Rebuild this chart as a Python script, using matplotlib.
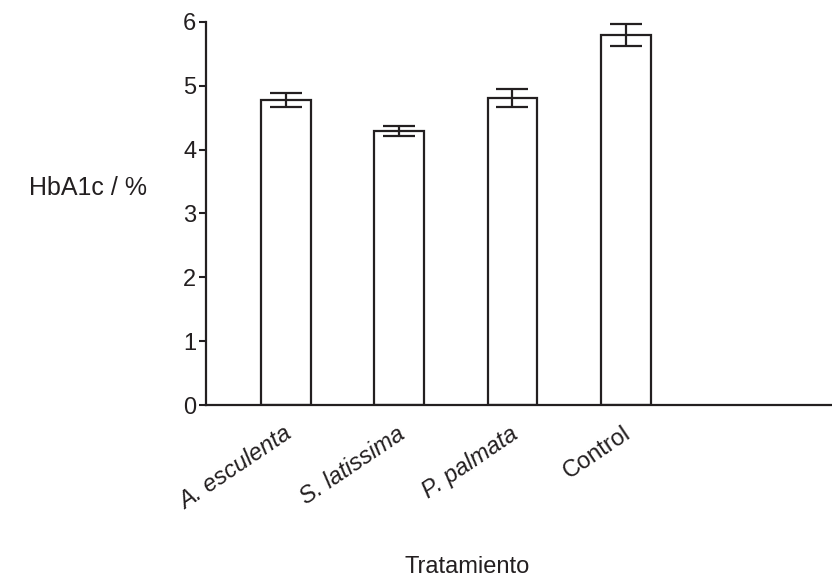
import numpy as np
import matplotlib.pyplot as plt
import matplotlib.transforms as mtransforms

plt.rcParams['font.family'] = ['Liberation Sans', 'DejaVu Sans']

treatments = ['A. esculenta', 'S. latissima', 'P. palmata', 'Control']
italic = [True, True, True, False]
hba1c = [4.78, 4.29, 4.81, 5.80]
err = [0.11, 0.08, 0.14, 0.17]

ink = '#231f20'

fig = plt.figure(figsize=(8.32, 5.81), dpi=100)
ax = fig.add_axes([0.2476, 0.3029, 0.7524, 0.6593])

x = np.arange(len(treatments))
ax.bar(x, hba1c, width=0.44, color='white', edgecolor=ink, linewidth=1.6, zorder=2)
ax.errorbar(x, hba1c, yerr=err, fmt='none', ecolor=ink, elinewidth=1.6,
            capsize=11.5, capthick=1.6, zorder=3)

ax.set_xlim(-0.708, 4.823)
ax.set_ylim(0, 6)
ax.set_yticks(range(7))
ax.tick_params(axis='y', labelsize=17, length=5, width=1.5, color=ink, labelcolor=ink, pad=2)
ax.tick_params(axis='x', length=0, pad=12.5)
ax.set_xticks(x)
ax.set_xticklabels(treatments, rotation=34, ha='right', rotation_mode='anchor', fontsize=17, color=ink)
# nudge the rotated labels a little to the left
shift = mtransforms.ScaledTranslation(-2.5 / 72, 0, fig.dpi_scale_trans)
for lab, it in zip(ax.get_xticklabels(), italic):
    lab.set_transform(lab.get_transform() + shift)
    if it:
        lab.set_fontstyle('italic')

for s in ['top', 'right']:
    ax.spines[s].set_visible(False)
for s in ['left', 'bottom']:
    ax.spines[s].set_linewidth(1.6)
    ax.spines[s].set_color(ink)

fig.text(88 / 832, 1 - 188 / 581, 'HbA1c / %', fontsize=18, color=ink, ha='center', va='center')
fig.text(467 / 832, 1 - 567 / 581, 'Tratamiento', fontsize=17, color=ink, ha='center', va='center')

fig.savefig('out.png', dpi=100)
